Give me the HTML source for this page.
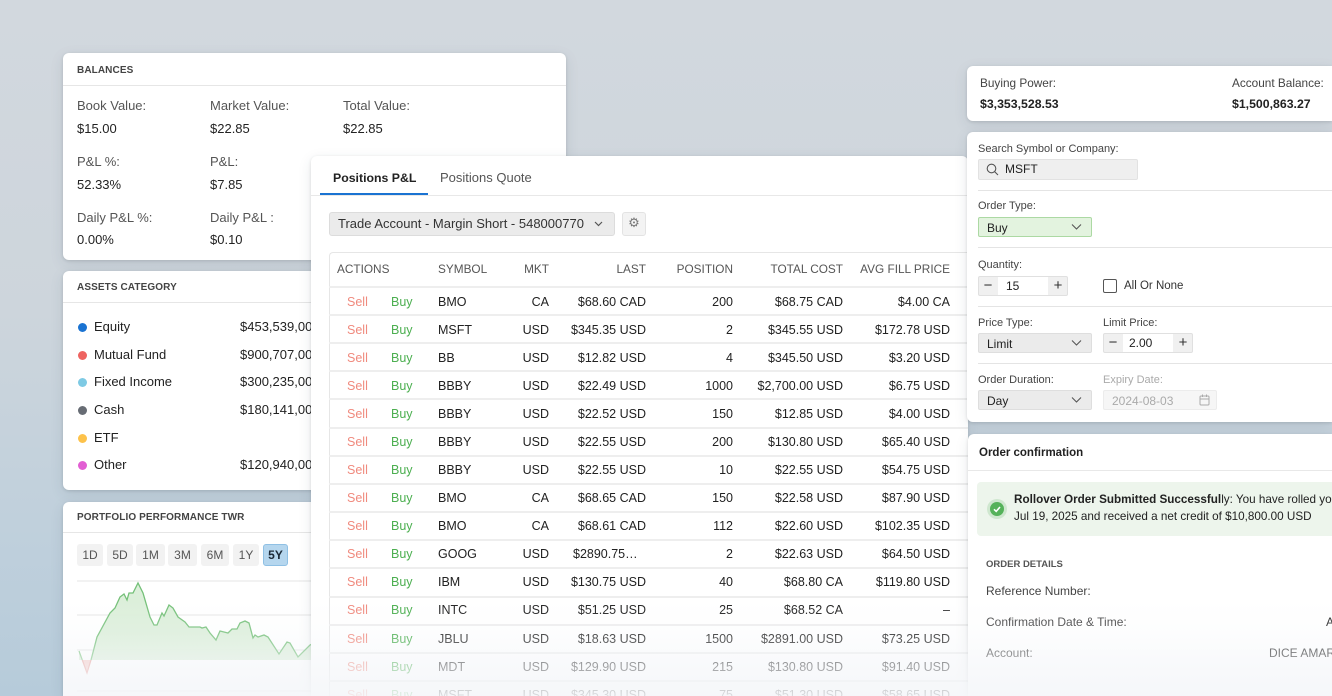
<!DOCTYPE html>
<html><head><meta charset="utf-8">
<style>
*{box-sizing:border-box;margin:0;padding:0}
html,body{width:1332px;height:696px;overflow:hidden}
body{position:relative;font-family:"Liberation Sans",Arial,sans-serif;color:#222;
background:linear-gradient(180deg,#d2d8de 0%,#cdd5dc 45%,#c0d0dc 75%,#b6cbda 100%);}
.p{position:absolute;background:#fff;border-radius:6px;box-shadow:0 1px 3px rgba(0,0,0,.12),0 4px 14px rgba(40,60,80,.10);overflow:hidden}
.t{position:absolute;white-space:nowrap;line-height:16px}
.h{font-size:10px;font-weight:bold;color:#444;letter-spacing:.1px}
.div{position:absolute;height:1px;background:#e6e6e6}
.lb{font-size:13px;color:#555}
.vl{font-size:13px;color:#222}
.dot{position:absolute;width:9px;height:9px;border-radius:50%}
.btn{position:absolute;top:42px;height:22px;background:#f2f2f2;border-radius:3px;font-size:12px;color:#555;text-align:center;line-height:22px}
.tb{font-size:12.5px}
.r{text-align:right;width:200px}
.sell{color:#f08a7e}
.buy{color:#4caf50}
.hd{font-size:11.8px;color:#555}
.rl{position:absolute;left:18px;width:660px;height:2px;background:#eeeeee}
.fl{font-size:11px;color:#444}
.sel{position:absolute;height:20px;border-radius:2px;font-size:12px;line-height:20px;padding-left:8px}
</style></head><body>

<!-- Balances -->
<div class="p" style="left:63px;top:53px;width:503px;height:207px">
  <div class="t h" style="left:14px;top:10px">BALANCES</div>
  <div class="div" style="left:0;top:32px;width:503px"></div>
  <div class="t lb" style="left:14px;top:45px">Book Value:</div>
  <div class="t lb" style="left:147px;top:45px">Market Value:</div>
  <div class="t lb" style="left:280px;top:45px">Total Value:</div>
  <div class="t vl" style="left:14px;top:68px">$15.00</div>
  <div class="t vl" style="left:147px;top:68px">$22.85</div>
  <div class="t vl" style="left:280px;top:68px">$22.85</div>
  <div class="t lb" style="left:14px;top:101px">P&amp;L %:</div>
  <div class="t lb" style="left:147px;top:101px">P&amp;L:</div>
  <div class="t vl" style="left:14px;top:124px">52.33%</div>
  <div class="t vl" style="left:147px;top:124px">$7.85</div>
  <div class="t lb" style="left:14px;top:157px">Daily P&amp;L %:</div>
  <div class="t lb" style="left:147px;top:157px">Daily P&amp;L :</div>
  <div class="t vl" style="left:14px;top:179px">0.00%</div>
  <div class="t vl" style="left:147px;top:179px">$0.10</div>
</div>

<!-- Assets -->
<div class="p" style="left:63px;top:271px;width:300px;height:219px">
  <div class="t h" style="left:14px;top:9px">ASSETS CATEGORY</div>
  <div class="div" style="left:0;top:31px;width:300px"></div>
  <div class="dot" style="left:15px;top:52px;background:#1a73d2"></div>
  <div class="t vl" style="left:31px;top:48px">Equity</div>
  <div class="t vl" style="left:177px;top:48px">$453,539,00</div>
  <div class="dot" style="left:15px;top:80px;background:#ee6461"></div>
  <div class="t vl" style="left:31px;top:76px">Mutual Fund</div>
  <div class="t vl" style="left:177px;top:76px">$900,707,00</div>
  <div class="dot" style="left:15px;top:107px;background:#7ecae4"></div>
  <div class="t vl" style="left:31px;top:103px">Fixed Income</div>
  <div class="t vl" style="left:177px;top:103px">$300,235,00</div>
  <div class="dot" style="left:15px;top:135px;background:#676c74"></div>
  <div class="t vl" style="left:31px;top:131px">Cash</div>
  <div class="t vl" style="left:177px;top:131px">$180,141,00</div>
  <div class="dot" style="left:15px;top:163px;background:#fdc24a"></div>
  <div class="t vl" style="left:31px;top:159px">ETF</div>
  <div class="dot" style="left:15px;top:190px;background:#e25fd3"></div>
  <div class="t vl" style="left:31px;top:186px">Other</div>
  <div class="t vl" style="left:177px;top:186px">$120,940,00</div>
</div>

<!-- Portfolio performance -->
<div class="p" style="left:63px;top:502px;width:300px;height:194px;border-radius:6px 6px 0 0">
  <div class="t h" style="left:14px;top:8px">PORTFOLIO PERFORMANCE TWR</div>
  <div class="div" style="left:0;top:30px;width:300px"></div>
  <div class="btn" style="left:14px;width:26px">1D</div>
  <div class="btn" style="left:44px;width:26px">5D</div>
  <div class="btn" style="left:73px;width:29px">1M</div>
  <div class="btn" style="left:105px;width:29px">3M</div>
  <div class="btn" style="left:138px;width:28px">6M</div>
  <div class="btn" style="left:170px;width:26px">1Y</div>
  <div class="btn" style="left:200px;width:25px;background:#b5d6ee;border:1px solid #8fc0e4;color:#1c2a38;font-weight:bold;line-height:20px">5Y</div>
</div>
<svg style="position:absolute;left:0;top:0" width="1332" height="696" viewBox="0 0 1332 696">
  <g stroke="#e4e4e4" stroke-width="1">
    <line x1="77" y1="581" x2="320" y2="581"/>
    <line x1="77" y1="615" x2="320" y2="615"/>
    <line x1="77" y1="650" x2="320" y2="650"/>
    <line x1="77" y1="691" x2="320" y2="691"/>
  </g>
  <polygon fill="#f6c9c5" points="82.3,660 87,673 91,660"/>
  <polygon fill="#daeed8" fill-opacity="0.95" points="79,660 79,651 82.3,660 91,660 97,637 110,613 115,608 120,597 124,594 127,600 129,593 133,593 138,583 143,593 150,617 154,625 157,625 162,613 164,616 169,605 173,608 178,617 185,622 189,627 200,627 202,628 206,627 210,633 216,640 220,631 228,633 232,629 237,629 240,623 245,621 249,623 253,638 255,635 258,637 264,635 268,637 279,654 287,642 290,643 298,657 310,645 320,640 320,660"/>
  <polyline fill="none" stroke="#e89a94" stroke-width="1.2" points="82.3,660 87,673 91,660"/>
  <polyline fill="none" stroke="#7cc47f" stroke-width="1.2" points="79,651 82.3,660"/>
  <polyline fill="none" stroke="#74c078" stroke-width="1.3" points="91,660 97,637 110,613 115,608 120,597 124,594 127,600 129,593 133,593 138,583 143,593 150,617 154,625 157,625 162,613 164,616 169,605 173,608 178,617 185,622 189,627 200,627 202,628 206,627 210,633 216,640 220,631 228,633 232,629 237,629 240,623 245,621 249,623 253,638 255,635 258,637 264,635 268,637 279,654 287,642 290,643 298,657 310,645 320,640"/>
</svg>

<!-- Positions panel -->
<div class="p" style="left:311px;top:156px;width:657px;height:540px;border-radius:6px 6px 0 0">
  <div class="t" style="left:22px;top:14px;font-size:12.3px;font-weight:bold;color:#222">Positions P&amp;L</div>
  <div class="t" style="left:129px;top:14px;font-size:13px;color:#555">Positions Quote</div>
  <div class="div" style="left:0;top:39px;width:657px;background:#e8e8e8"></div>
  <div style="position:absolute;left:9px;top:37px;width:108px;height:2px;background:#1a73d2"></div>
  <div style="position:absolute;left:18px;top:56px;width:286px;height:24px;background:#ebebeb;border:1px solid #dcdcdc;border-radius:3px"></div>
  <div class="t" style="left:27px;top:60px;font-size:13px;color:#333">Trade Account - Margin Short - 548000770</div>
  <svg style="position:absolute;left:283px;top:64px" width="9" height="8"><polyline points="1,2 4.5,5.5 8,2" fill="none" stroke="#555" stroke-width="1.2"/></svg>
  <div style="position:absolute;left:311px;top:56px;width:24px;height:24px;background:#f3f3f3;border:1px solid #e3e3e3;border-radius:3px;text-align:center;line-height:22px;font-size:13px;color:#777;font-family:'DejaVu Sans',sans-serif">⚙</div>

  <!-- table -->
  <div style="position:absolute;left:18px;top:96px;width:640px;height:444px;border:1.5px solid #e6e6e6;border-bottom:none;border-right:none;border-radius:4px 0 0 0"></div>
  <div class="rl" style="top:130px"></div>
  <div class="t hd" style="left:26px;top:105px">ACTIONS</div>
  <div class="t hd" style="left:127px;top:105px">SYMBOL</div>
  <div class="t hd r" style="left:38px;top:105px">MKT</div>
  <div class="t hd r" style="left:135px;top:105px">LAST</div>
  <div class="t hd r" style="left:222px;top:105px">POSITION</div>
  <div class="t hd r" style="left:332px;top:105px">TOTAL COST</div>
  <div class="t hd r" style="left:439px;top:105px">AVG FILL PRICE</div>

  <div class="rl" style="top:158px"></div>
  <div class="rl" style="top:186px"></div>
  <div class="rl" style="top:214px"></div>
  <div class="rl" style="top:242px"></div>
  <div class="rl" style="top:271px"></div>
  <div class="rl" style="top:299px"></div>
  <div class="rl" style="top:327px"></div>
  <div class="rl" style="top:355px"></div>
  <div class="rl" style="top:383px"></div>
  <div class="rl" style="top:411px"></div>
  <div class="rl" style="top:440px"></div>
  <div class="rl" style="top:468px"></div>
  <div class="rl" style="top:496px"></div>
  <div class="rl" style="top:524px"></div>

  <div class="t tb sell" style="left:36px;top:138px">Sell</div><div class="t tb buy" style="left:80px;top:138px">Buy</div>
  <div class="t tb" style="left:127px;top:138px">BMO</div>
  <div class="t tb r" style="left:38px;top:138px">CA</div>
  <div class="t tb r" style="left:135px;top:138px">$68.60 CAD</div>
  <div class="t tb r" style="left:222px;top:138px">200</div>
  <div class="t tb r" style="left:332px;top:138px">$68.75 CAD</div>
  <div class="t tb r" style="left:439px;top:138px">$4.00 CA</div>

  <div class="t tb sell" style="left:36px;top:166px">Sell</div><div class="t tb buy" style="left:80px;top:166px">Buy</div>
  <div class="t tb" style="left:127px;top:166px">MSFT</div>
  <div class="t tb r" style="left:38px;top:166px">USD</div>
  <div class="t tb r" style="left:135px;top:166px">$345.35 USD</div>
  <div class="t tb r" style="left:222px;top:166px">2</div>
  <div class="t tb r" style="left:332px;top:166px">$345.55 USD</div>
  <div class="t tb r" style="left:439px;top:166px">$172.78 USD</div>

  <div class="t tb sell" style="left:36px;top:194px">Sell</div><div class="t tb buy" style="left:80px;top:194px">Buy</div>
  <div class="t tb" style="left:127px;top:194px">BB</div>
  <div class="t tb r" style="left:38px;top:194px">USD</div>
  <div class="t tb r" style="left:135px;top:194px">$12.82 USD</div>
  <div class="t tb r" style="left:222px;top:194px">4</div>
  <div class="t tb r" style="left:332px;top:194px">$345.50 USD</div>
  <div class="t tb r" style="left:439px;top:194px">$3.20 USD</div>

  <div class="t tb sell" style="left:36px;top:222px">Sell</div><div class="t tb buy" style="left:80px;top:222px">Buy</div>
  <div class="t tb" style="left:127px;top:222px">BBBY</div>
  <div class="t tb r" style="left:38px;top:222px">USD</div>
  <div class="t tb r" style="left:135px;top:222px">$22.49 USD</div>
  <div class="t tb r" style="left:222px;top:222px">1000</div>
  <div class="t tb r" style="left:332px;top:222px">$2,700.00 USD</div>
  <div class="t tb r" style="left:439px;top:222px">$6.75 USD</div>

  <div class="t tb sell" style="left:36px;top:250px">Sell</div><div class="t tb buy" style="left:80px;top:250px">Buy</div>
  <div class="t tb" style="left:127px;top:250px">BBBY</div>
  <div class="t tb r" style="left:38px;top:250px">USD</div>
  <div class="t tb r" style="left:135px;top:250px">$22.52 USD</div>
  <div class="t tb r" style="left:222px;top:250px">150</div>
  <div class="t tb r" style="left:332px;top:250px">$12.85 USD</div>
  <div class="t tb r" style="left:439px;top:250px">$4.00 USD</div>

  <div class="t tb sell" style="left:36px;top:278px">Sell</div><div class="t tb buy" style="left:80px;top:278px">Buy</div>
  <div class="t tb" style="left:127px;top:278px">BBBY</div>
  <div class="t tb r" style="left:38px;top:278px">USD</div>
  <div class="t tb r" style="left:135px;top:278px">$22.55 USD</div>
  <div class="t tb r" style="left:222px;top:278px">200</div>
  <div class="t tb r" style="left:332px;top:278px">$130.80 USD</div>
  <div class="t tb r" style="left:439px;top:278px">$65.40 USD</div>

  <div class="t tb sell" style="left:36px;top:306px">Sell</div><div class="t tb buy" style="left:80px;top:306px">Buy</div>
  <div class="t tb" style="left:127px;top:306px">BBBY</div>
  <div class="t tb r" style="left:38px;top:306px">USD</div>
  <div class="t tb r" style="left:135px;top:306px">$22.55 USD</div>
  <div class="t tb r" style="left:222px;top:306px">10</div>
  <div class="t tb r" style="left:332px;top:306px">$22.55 USD</div>
  <div class="t tb r" style="left:439px;top:306px">$54.75 USD</div>

  <div class="t tb sell" style="left:36px;top:334px">Sell</div><div class="t tb buy" style="left:80px;top:334px">Buy</div>
  <div class="t tb" style="left:127px;top:334px">BMO</div>
  <div class="t tb r" style="left:38px;top:334px">CA</div>
  <div class="t tb r" style="left:135px;top:334px">$68.65 CAD</div>
  <div class="t tb r" style="left:222px;top:334px">150</div>
  <div class="t tb r" style="left:332px;top:334px">$22.58 USD</div>
  <div class="t tb r" style="left:439px;top:334px">$87.90 USD</div>

  <div class="t tb sell" style="left:36px;top:362px">Sell</div><div class="t tb buy" style="left:80px;top:362px">Buy</div>
  <div class="t tb" style="left:127px;top:362px">BMO</div>
  <div class="t tb r" style="left:38px;top:362px">CA</div>
  <div class="t tb r" style="left:135px;top:362px">$68.61 CAD</div>
  <div class="t tb r" style="left:222px;top:362px">112</div>
  <div class="t tb r" style="left:332px;top:362px">$22.60 USD</div>
  <div class="t tb r" style="left:439px;top:362px">$102.35 USD</div>

  <div class="t tb sell" style="left:36px;top:390px">Sell</div><div class="t tb buy" style="left:80px;top:390px">Buy</div>
  <div class="t tb" style="left:127px;top:390px">GOOG</div>
  <div class="t tb r" style="left:38px;top:390px">USD</div>
  <div class="t tb" style="left:262px;top:390px">$2890.75…</div>
  <div class="t tb r" style="left:222px;top:390px">2</div>
  <div class="t tb r" style="left:332px;top:390px">$22.63 USD</div>
  <div class="t tb r" style="left:439px;top:390px">$64.50 USD</div>

  <div class="t tb sell" style="left:36px;top:418px">Sell</div><div class="t tb buy" style="left:80px;top:418px">Buy</div>
  <div class="t tb" style="left:127px;top:418px">IBM</div>
  <div class="t tb r" style="left:38px;top:418px">USD</div>
  <div class="t tb r" style="left:135px;top:418px">$130.75 USD</div>
  <div class="t tb r" style="left:222px;top:418px">40</div>
  <div class="t tb r" style="left:332px;top:418px">$68.80 CA</div>
  <div class="t tb r" style="left:439px;top:418px">$119.80 USD</div>

  <div class="t tb sell" style="left:36px;top:446px">Sell</div><div class="t tb buy" style="left:80px;top:446px">Buy</div>
  <div class="t tb" style="left:127px;top:446px">INTC</div>
  <div class="t tb r" style="left:38px;top:446px">USD</div>
  <div class="t tb r" style="left:135px;top:446px">$51.25 USD</div>
  <div class="t tb r" style="left:222px;top:446px">25</div>
  <div class="t tb r" style="left:332px;top:446px">$68.52 CA</div>
  <div class="t tb r" style="left:439px;top:446px">–</div>

  <div class="t tb sell" style="left:36px;top:475px">Sell</div><div class="t tb buy" style="left:80px;top:475px">Buy</div>
  <div class="t tb" style="left:127px;top:475px">JBLU</div>
  <div class="t tb r" style="left:38px;top:475px">USD</div>
  <div class="t tb r" style="left:135px;top:475px">$18.63 USD</div>
  <div class="t tb r" style="left:222px;top:475px">1500</div>
  <div class="t tb r" style="left:332px;top:475px">$2891.00 USD</div>
  <div class="t tb r" style="left:439px;top:475px">$73.25 USD</div>

  <div class="t tb sell" style="left:36px;top:503px">Sell</div><div class="t tb buy" style="left:80px;top:503px">Buy</div>
  <div class="t tb" style="left:127px;top:503px">MDT</div>
  <div class="t tb r" style="left:38px;top:503px">USD</div>
  <div class="t tb r" style="left:135px;top:503px">$129.90 USD</div>
  <div class="t tb r" style="left:222px;top:503px">215</div>
  <div class="t tb r" style="left:332px;top:503px">$130.80 USD</div>
  <div class="t tb r" style="left:439px;top:503px">$91.40 USD</div>

  <div style="position:absolute;left:0;top:531px;width:657px;height:9px;overflow:hidden">
    <div class="t tb sell" style="left:36px;top:0">Sell</div><div class="t tb buy" style="left:80px;top:0">Buy</div>
    <div class="t tb" style="left:127px;top:0">MSFT</div>
    <div class="t tb r" style="left:38px;top:0">USD</div>
    <div class="t tb r" style="left:135px;top:0">$345.30 USD</div>
    <div class="t tb r" style="left:222px;top:0">75</div>
    <div class="t tb r" style="left:332px;top:0">$51.30 USD</div>
    <div class="t tb r" style="left:439px;top:0">$58.65 USD</div>
  </div>
</div>

<!-- Right top -->
<div class="p" style="left:967px;top:66px;width:365px;height:55px;border-radius:6px 0 0 6px">
  <div class="t" style="left:13px;top:9px;font-size:11.8px;color:#444">Buying Power:</div>
  <div class="t" style="left:13px;top:30px;font-size:12.3px;font-weight:bold;color:#222">$3,353,528.53</div>
  <div class="t" style="left:265px;top:9px;font-size:11.8px;color:#444">Account Balance:</div>
  <div class="t" style="left:265px;top:30px;font-size:12.3px;font-weight:bold;color:#222">$1,500,863.27</div>
</div>

<!-- Order panel -->
<div class="p" style="left:967px;top:132px;width:365px;height:290px;border-radius:6px 0 0 6px">
  <div class="t fl" style="left:11px;top:9px">Search Symbol or Company:</div>
  <div style="position:absolute;left:11px;top:27px;width:160px;height:21px;background:#efefef;border:1px solid #e2e2e2;border-radius:2px"></div>
  <svg style="position:absolute;left:19px;top:31px" width="13" height="13"><circle cx="5.5" cy="5.5" r="4.3" fill="none" stroke="#555" stroke-width="1.1"/><line x1="8.6" y1="8.6" x2="12" y2="12" stroke="#555" stroke-width="1.1"/></svg>
  <div class="t" style="left:38px;top:29px;font-size:12px;color:#222">MSFT</div>
  <div class="div" style="left:11px;top:58px;width:360px;background:#e4e4e4"></div>

  <div class="t fl" style="left:11px;top:66px">Order Type:</div>
  <div class="sel" style="left:11px;top:85px;width:114px;background:#e3f3df;border:1px solid #acd9a3;color:#222">Buy</div>
  <svg style="position:absolute;left:104px;top:91px" width="11" height="8"><polyline points="1,1.5 5.5,6 10,1.5" fill="none" stroke="#555" stroke-width="1.1"/></svg>
  <div class="div" style="left:11px;top:115px;width:360px;background:#e4e4e4"></div>

  <div class="t fl" style="left:11px;top:125px">Quantity:</div>
  <div style="position:absolute;left:11px;top:144px;width:90px;height:20px;background:#f0f0f0;border:1px solid #e0e0e0;border-radius:2px"></div>
  <div style="position:absolute;left:31px;top:145px;width:50px;height:18px;background:#fff"></div>
  <div class="t" style="left:14px;top:146px;width:14px;text-align:center;font-size:15px;color:#333">−</div>
  <div class="t" style="left:39px;top:146px;font-size:12px">15</div>
  <div class="t" style="left:83px;top:146px;width:16px;text-align:center;font-size:15px;color:#333">+</div>
  <div style="position:absolute;left:136px;top:147px;width:14px;height:14px;border:1.2px solid #555;border-radius:2px;background:#fff"></div>
  <div class="t" style="left:157px;top:146px;font-size:11.5px;color:#333">All Or None</div>
  <div class="div" style="left:11px;top:174px;width:360px;background:#e4e4e4"></div>

  <div class="t fl" style="left:11px;top:183px">Price Type:</div>
  <div class="t fl" style="left:136px;top:183px">Limit Price:</div>
  <div class="sel" style="left:11px;top:201px;width:114px;background:#ebebeb;border:1px solid #dedede">Limit</div>
  <svg style="position:absolute;left:104px;top:207px" width="11" height="8"><polyline points="1,1.5 5.5,6 10,1.5" fill="none" stroke="#555" stroke-width="1.1"/></svg>
  <div style="position:absolute;left:136px;top:201px;width:90px;height:20px;background:#f0f0f0;border:1px solid #e0e0e0;border-radius:2px"></div>
  <div style="position:absolute;left:156px;top:202px;width:50px;height:18px;background:#fff"></div>
  <div class="t" style="left:139px;top:203px;width:14px;text-align:center;font-size:15px;color:#333">−</div>
  <div class="t" style="left:162px;top:203px;font-size:12px">2.00</div>
  <div class="t" style="left:208px;top:203px;width:16px;text-align:center;font-size:15px;color:#333">+</div>
  <div class="div" style="left:11px;top:231px;width:360px;background:#e4e4e4"></div>

  <div class="t fl" style="left:11px;top:240px">Order Duration:</div>
  <div class="t fl" style="left:136px;top:240px;color:#aaa">Expiry Date:</div>
  <div class="sel" style="left:11px;top:258px;width:114px;background:#ebebeb;border:1px solid #dedede">Day</div>
  <svg style="position:absolute;left:104px;top:264px" width="11" height="8"><polyline points="1,1.5 5.5,6 10,1.5" fill="none" stroke="#555" stroke-width="1.1"/></svg>
  <div class="sel" style="left:136px;top:258px;width:114px;background:#f6f6f6;border:1px solid #ececec;color:#aaa">2024-08-03</div>
  <svg style="position:absolute;left:232px;top:262px" width="11" height="12"><rect x="1" y="2" width="9" height="9" rx="1" fill="none" stroke="#aaa" stroke-width="1"/><line x1="1" y1="5" x2="10" y2="5" stroke="#aaa"/><line x1="3.5" y1="0.5" x2="3.5" y2="3" stroke="#aaa"/><line x1="7.5" y1="0.5" x2="7.5" y2="3" stroke="#aaa"/></svg>
</div>

<!-- Order confirmation -->
<div class="p" style="left:968px;top:434px;width:364px;height:262px;border-radius:6px 0 0 0">
  <div class="t" style="left:11px;top:11px;font-size:11.5px;font-weight:bold;color:#222">Order confirmation</div>
  <div class="div" style="left:0;top:36px;width:364px;background:#e8e8e8"></div>
  <div style="position:absolute;left:9px;top:48px;width:355px;height:54px;background:#edf5ec;border-radius:4px 0 0 4px"></div>
  <div style="position:absolute;left:19px;top:65px;width:20px;height:20px;border-radius:50%;background:#cfe7cf"></div>
  <div style="position:absolute;left:22px;top:68px;width:14px;height:14px;border-radius:50%;background:#55b25a"></div>
  <svg style="position:absolute;left:22px;top:68px" width="14" height="14"><polyline points="4,7.3 6.2,9.4 10,5" fill="none" stroke="#fff" stroke-width="1.6"/></svg>
  <div class="t" style="left:46px;top:58px;font-size:11.7px;color:#222"><b>Rollover Order Submitted Successful</b>ly: You have rolled you</div>
  <div class="t" style="left:46px;top:75px;font-size:11.7px;color:#222">Jul 19, 2025 and received a net credit of $10,800.00 USD</div>
  <div class="t" style="left:18px;top:123px;font-size:9.5px;font-weight:bold;color:#555">ORDER DETAILS</div>
  <div class="t" style="left:18px;top:149px;font-size:12px;color:#444">Reference Number:</div>
  <div class="t" style="left:18px;top:180px;font-size:12px;color:#444">Confirmation Date &amp; Time:</div>
  <div class="t" style="left:358px;top:180px;font-size:12px;color:#222">A</div>
  <div class="t" style="left:18px;top:211px;font-size:12px;color:#444">Account:</div>
  <div class="t" style="left:301px;top:211px;font-size:12px;color:#222">DICE AMAR</div>
</div>

<!-- bottom fade -->
<div style="position:absolute;left:63px;top:600px;width:1269px;height:96px;background:linear-gradient(180deg,rgba(244,246,249,0) 0%,rgba(244,246,249,.2) 35%,rgba(244,246,249,.6) 68%,rgba(244,246,249,.88) 100%)"></div>
</body></html>
